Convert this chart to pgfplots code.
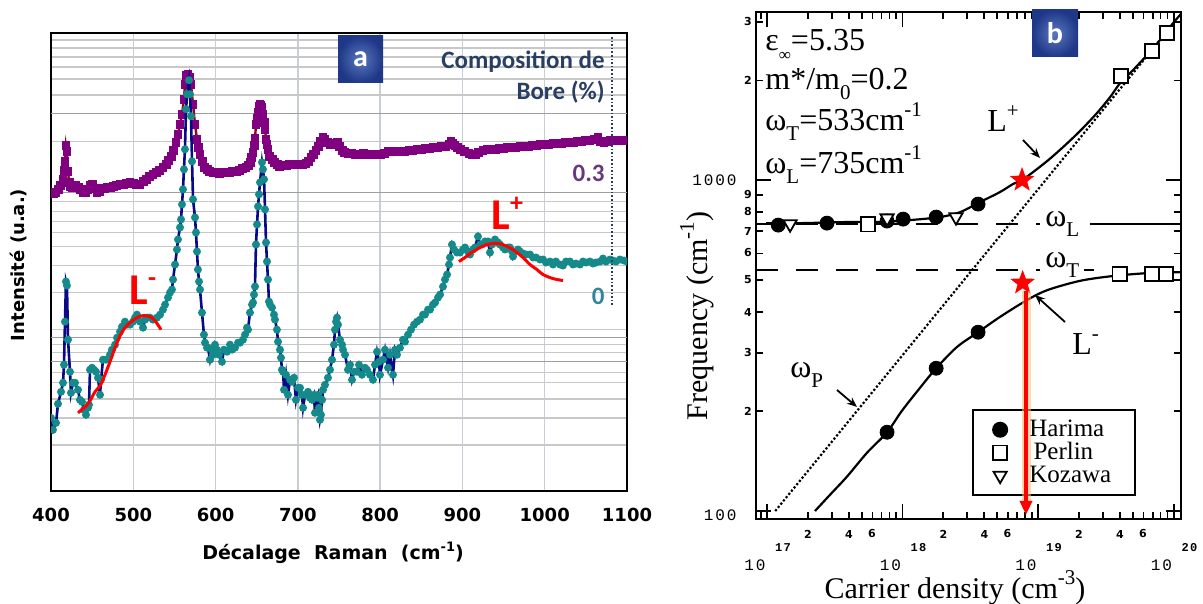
\documentclass[border=0pt]{standalone}
\usepackage{pgfplots}
\pgfplotsset{compat=1.18}
\usepackage{fontspec}
\setmainfont{Liberation Serif}
\newfontfamily\vfont{DejaVu Sans}
\newfontfamily\cfont{Carlito}
\newfontfamily\mfont[LetterSpace=12]{Liberation Mono}
\usetikzlibrary{shapes.geometric,arrows.meta}
\definecolor{purpM}{RGB}{128,0,128}
\definecolor{dredL}{RGB}{139,10,10}
\definecolor{tealM}{RGB}{20,138,138}
\definecolor{navyL}{RGB}{10,10,135}
\definecolor{compC}{RGB}{40,62,98}
\definecolor{labA}{RGB}{105,55,130}
\definecolor{labB}{RGB}{49,133,155}
\definecolor{bIn}{RGB}{90,120,190}
\definecolor{bOut}{RGB}{30,55,135}
\definecolor{gridH}{RGB}{200,200,200}
\definecolor{gridV}{RGB}{200,206,216}
\pgfdeclareplotmark{fstar}{\node[star,star points=5,star point ratio=2.4,fill=red,draw=none,inner sep=0pt,minimum size=2\pgfplotmarksize]{};}
\newcommand{\sbs}[2][10.5]{\raisebox{-0.3em}{\fontsize{#1}{#1}\selectfont #2}}
\newcommand{\sps}[2][10.5]{\raisebox{0.45em}{\fontsize{#1}{#1}\selectfont #2}}
\begin{document}
\begin{tikzpicture}
\path[use as bounding box] (0pt,0pt) rectangle (601.5pt,302pt);
%================ panel a
\begin{axis}[
 at={(25.5pt,56.5pt)}, anchor=south west,
 scale only axis, width=288pt, height=228.5pt,
 xmin=400, xmax=1100, ymin=0, ymax=457,
 clip marker paths=true,
 xtick={400,500,600,700,800,900,1000,1100},
 xticklabels={400,500,600,700,800,900,1000,1100},
 xticklabel style={font=\vfont\bfseries\fontsize{9}{10}\selectfont, yshift=-5pt},
 ytick={46,73,92,108,118,138,146,161,198,225,244,258,269,279,289,349,395,411,423,433,442,450},
 yticklabels={},
 extra y ticks={129,153,298,377},
 extra y tick labels={},
 extra y tick style={major y grid style={gray!75, line width=0.7pt}},
 tick style={draw=none},
 xmajorgrids, ymajorgrids,
 major x grid style={gridV, line width=0.7pt},
 major y grid style={gridH, line width=0.7pt},
 axis line style={black, line width=0.9pt},
]
\addplot[dredL, line width=1.2pt, mark=square*, mark size=1.6pt, mark options={purpM, fill=purpM, solid}] coordinates {
(400,298)(403,297)(406,298)(409,301)(412,305)(414.6,311)(416,320)(417,329)(418.2,345)(419.4,339)(420.7,319)(422,308)(423.1,304)
(426,303)(430,305)(433,303)(436,301)(439,298)(442,298)(445,301)(448,305)(450,306)(453,302)(456,298)(459,299)(462,302)(465,302)(468,303)(472,303)(476,304)(480,305)(484,306)(488,306)(492,307)(496,308)(500,307)(504,306)(508,306)(512,309)(516,311)(520,314)(524,316)(528,318)(532,320)(536,323)(540,326)(543,330)(546,334)(549,340)(552,348)(554.3,356)(556.8,366)(559.2,376)(561.6,391)(562.8,406)(564.1,415)(566.5,416)(568.9,413)(570.1,406)(572.6,386)(575,366)(577.4,351)(579,343)(581,336)(584,329)(587,323)(590,321)(593,319)(597,318)(601,318)(605,317)(609,318)(613,318)(617,318)(621,319)(625,319)(629,320)(633,322)(637,323)(640,325)(642,328)(644,333)(645.5,338)(647,345)(648,352)(649.1,366)(650.5,372)(651.6,378)(653,384)(654,386)(655.2,385)(656.4,383)(657.6,376)(659,368)(660.1,361)(661.3,351)(662.5,346)(663.7,341)(666,334)(669,331)(672,328)(675,326)(678,324)(682,325)(686,325)(690,326)(694,326)(698,326)(702,326)(706,326)(710,327)(713,329)(716,333)(719,336)(722,340)(725,344)(728,349)(730.6,353)(733,351)(736,348)(740,346)(744,347)(748,348)(751,344)(754,340)(757,338)(761,337)(765,337)(770,336)(775,336)(780,337)(785,336)(790,336)(795,336)(800,336)(805,337)(810,339)(815,339)(820,339)(825,339)(830,339)(835,340)(840,340)(845,341)(850,341)(855,342)(860,342)(865,343)(870,343)(875,344)(880,344)(884,346)(886,349)(888,347)(891,345)(894,343)(898,341)(903,339)(908,337)(912,336)(916,336)(920,338)(925,340)(930,341)(935,341)(940,341)(945,342)(950,342)(955,343)(960,343)(965,343)(970,344)(975,344)(980,344)(985,345)(990,345)(995,346)(1000,346)(1005,346)(1010,347)(1015,347)(1020,347)(1025,348)(1030,348)(1035,348)(1040,349)(1045,349)(1050,350)(1055,350)(1060,351)(1064.8,353)(1068,349)(1072,348)(1076,349)(1080,350)(1085,350)(1090,350)(1095,350)(1100,350)};
\addplot[navyL, line width=1.3pt, mark=*, mark size=1.3pt, mark options={tealM, fill=tealM, solid}] coordinates {
(400,73)(402.4,61)(406.1,68)(408.5,87)(412.2,99)(414.6,108)(415.8,126)(417,169)(418.2,209)(419.4,205)(420.7,151)(423.1,119)(424.3,98)(426.7,108)(429.2,108)(432.8,101)(435.2,91)(437.7,89)(440.1,81)(442.5,76)(445,83)(446.2,86)(447.4,121)(449.8,123)(452.3,121)(454.7,119)(457.1,113)(459.6,96)(460.8,111)(463.2,131)(466.8,131)(471.7,136)(474.1,141)(477.8,146)(480.2,153)(483.9,159)(486.3,164)(489.9,169)(492.4,166)(496,166)(499.7,169)(502.1,173)(504.5,176)(508.2,169)(511.8,163)(514.2,171)(516.7,173)(520.3,173)(524,171)(528.8,173)(532.5,176)(536.1,181)(538.6,186)(542.2,193)(544.6,198)(547,201)(548.3,211)(550.7,226)(553.1,241)(554.3,251)(556.8,263)(558,271)(559.2,286)(560.4,301)(561.6,321)(562.8,341)(564.1,381)(565.3,396)(567.7,410)(568.9,396)(570.1,374)(571.4,329)(572.6,291)(575,273)(576.2,258)(577.4,239)(578.6,221)(579.9,209)(581.1,201)(583.5,178)(585.9,156)(587.2,148)(589.6,143)(590.8,143)(593.2,131)(595.7,141)(596.9,136)(599.3,146)(601.7,141)(604.2,136)(607.8,129)(610.2,141)(613.9,139)(617.5,146)(620,141)(623.6,143)(627.3,148)(629.7,148)(633.3,151)(635.8,156)(638.2,163)(639.4,161)(641.8,178)(644.3,186)(645.5,188)(646.7,196)(647.9,204)(649.1,246)(650.4,266)(651.6,284)(652.8,296)(654,308)(656.4,328)(657.6,321)(658.9,311)(660.1,281)(661.3,248)(662.5,229)(663.7,211)(664.9,189)(666.2,186)(668.6,183)(671,176)(672.2,171)(674.6,161)(675.9,149)(678.3,141)(679.5,133)(680.7,121)(682,119)(683.2,101)(685.6,116)(688,96)(690.5,111)(692.9,109)(695.3,113)(697.7,91)(700.2,103)(702.6,103)(705,96)(706.3,83)(708.7,96)(712.3,99)(714.8,93)(717.2,91)(719.6,96)(720.8,78)(723.3,93)(724.5,96)(725.7,83)(726.9,71)(728.1,76)(729.4,91)(730.6,101)(733,106)(736.6,113)(739.1,121)(741.5,131)(743.9,146)(745.1,161)(746.4,169)(747.6,173)(748.8,166)(751.2,151)(753.7,146)(754.9,141)(757.3,136)(760.9,121)(763.4,126)(765.8,111)(768.2,119)(771.9,119)(774.3,126)(777.9,116)(781.6,123)(784,121)(787.7,116)(791.3,111)(793.8,126)(796.2,139)(798.6,129)(799.8,116)(803.5,131)(805.9,141)(809.6,123)(812,136)(815.6,116)(818.1,141)(820.5,136)(824.1,143)(827.8,151)(830.2,149)(833.9,156)(837.5,161)(841.2,166)(844.8,169)(848.4,171)(852.1,176)(854.5,176)(858.2,181)(860.6,181)(864.2,186)(866.7,188)(870.3,193)(872.8,196)(876.4,204)(878.8,211)(881.3,216)(883.7,226)(884.9,233)(887.3,246)(889.8,241)(893.4,238)(897.1,238)(900.7,241)(903.1,243)(906.8,239)(909.2,236)(912.8,241)(915.3,243)(918.9,254)(921.4,246)(923.8,246)(927.4,249)(931.1,249)(933.5,238)(935.9,246)(939.6,251)(943.2,248)(945.7,246)(949.3,243)(951.8,241)(955.4,243)(957.8,243)(960.3,239)(961.5,234)(963.9,239)(967.6,241)(970,239)(973.6,237)(977.3,236)(982.1,236)(985.8,233)(989.4,233)(994.3,231)(997.9,231)(1001.6,228)(1006.4,229)(1010.1,226)(1013.7,229)(1018.6,226)(1022.2,225)(1025.9,229)(1030.7,229)(1034.4,226)(1038,227)(1042.9,226)(1046.5,229)(1050.2,228)(1055,229)(1058.7,227)(1062.3,228)(1067.2,229)(1070.8,232)(1074.5,229)(1079.3,231)(1082.9,230)(1086.6,229)(1091.5,231)(1096.3,230)(1100,229)};
\addplot[red, line width=1.5pt, smooth] coordinates {(432.8,78)(445,87)(453.5,99)(459.6,105)(465.6,116)(471.7,129)(477.8,143)(483.9,155)(489.9,163)(496,168)(504.5,173)(511.8,175)(520.3,174)(526.4,170)(533.7,161)};
\addplot[red, line width=1.5pt, smooth] coordinates {(895.8,229)(903.1,233)(909.2,237)(915.3,240)(921.4,243)(929.9,246)(937.2,247)(944.5,247)(951.8,245)(959.1,242)(966.3,238)(973.6,233)(982.1,226)(990.6,221)(997.9,216)(1010,212)(1022.2,210)};
\draw[compC, densely dotted, line width=0.8pt] (axis cs:1082,453) -- (axis cs:1082,186);
\end{axis}
%================ panel b
\begin{axis}[
 at={(378pt,42.5pt)}, anchor=south west,
 scale only axis, width=212.5pt, height=253.5pt,
 xmode=log, ymode=log,
 xmin=8.3e16, xmax=1.135e20, ymin=94.6, ymax=3220,
 xtick={1e17,1e18,1e19,1e20}, ytick={100,1000},
 minor xtick={9e16,2e17,3e17,4e17,5e17,6e17,7e17,8e17,9e17,2e18,3e18,4e18,5e18,6e18,7e18,8e18,9e18,2e19,3e19,4e19,5e19,6e19,7e19,8e19,9e19},
 minor ytick={200,300,400,500,600,700,800,900,2000,3000},
 xticklabels={}, yticklabels={},
 tick align=inside,
 major tick length=7.5pt, minor tick length=3.5pt,
 every tick/.style={black, line width=0.9pt},
 axis line style={black, line width=1.4pt},
 legend cell align=left,
 legend style={at={(0.508,0.217)}, anchor=north west, draw=black, line width=1pt, fill=white,
   font=\fontsize{12.5}{13}\selectfont, inner xsep=10pt, inner ysep=3pt, row sep=-2.5pt,
   column sep=9pt},
]
\addplot[black, densely dotted, line width=1.1pt, forget plot] coordinates {(1.15e17,100) (9.9e19,2958)};
\addplot[black, line width=1pt, dash pattern=on 11pt off 9pt, forget plot] coordinates {(8.3e16,735) (1.035e19,735)};
\addplot[black, line width=1pt, forget plot] coordinates {(2.42e19,735) (1.135e20,735)};
\addplot[black, line width=1pt, dash pattern=on 11pt off 9pt, forget plot] coordinates {(8.3e16,533) (1.035e19,533)};
\addplot[black, line width=1pt, forget plot] coordinates {(2.2e19,533) (2.6e19,533)};
\addplot[black, line width=1.1pt, smooth, forget plot] coordinates {(9.84e16,741)(1.75e17,741)(4.1e17,747)(6.83e17,747)(1.14e18,757)(1.89e18,773)(2.66e18,800)(3.73e18,858)(5.24e18,920)(6.54e18,973)(7.62e18,1000)(9.19e18,1057)(1.19e19,1149)(1.53e19,1258)(2.04e19,1407)(2.72e19,1594)(3.4e19,1781)(4.03e19,1963)(5.02e19,2149)(6.37e19,2386)(7.94e19,2649)(9.91e19,2980)(1.135e20,3178)};
\addplot[black, line width=1.1pt, smooth, forget plot] coordinates {(2.26e17,100)(2.92e17,112)(3.89e17,127)(5.47e17,150)(7.69e17,173)(9.91e17,201)(1.35e18,236)(1.77e18,270)(2.52e18,313)(3.61e18,347)(5.24e18,386)(8.3e18,434)(1.17e19,465)(2.04e19,496)(3.58e19,513)(6.71e19,524)(1.135e20,527)};
\addplot[only marks, mark=*, mark size=3.5pt, black] coordinates {(1.21e17,731)(2.77e17,741)(7.69e17,752)(1.01e18,762)(1.77e18,773)(3.61e18,846)(7.69e17,173)(1.77e18,270)(3.61e18,347)};
\addlegendentry{Harima}
\addplot[only marks, mark=square*, mark size=3.6pt, mark options={fill=white, draw=black, line width=0.9pt}] coordinates {(5.56e17,735)(4.1e19,2061)(6.94e19,2455)(8.95e19,2782)(4.0e19,520)(6.94e19,520)(8.8e19,520)};
\addlegendentry{\,Perlin}
\addplot[only marks, mark=triangle*, mark size=3.8pt, mark options={rotate=180, fill=white, draw=black, line width=0.9pt}] coordinates {(1.48e17,736)(7.69e17,767)(2.48e18,773)};
\addlegendentry{Kozawa}
\addplot[only marks, mark=fstar, mark size=6.5pt, forget plot] coordinates {(7.62e18,1000)(7.7e18,489)};
\coordinate (arrT) at (axis cs:8.15e18,462);
\coordinate (arrB) at (axis cs:8.15e18,97.3);
\end{axis}
\draw[orange!55, line width=4.5pt, opacity=0.55] (arrT) -- ([yshift=5pt]arrB);
\draw[red, line width=2pt, -{Triangle[length=7pt,width=6pt]}] (arrT) -- (arrB);
%================ annotations
\begin{scope}[x=0.5pt,y=0.5pt]
% panel a
\node[rotate=90, font=\vfont\bfseries\fontsize{9}{10}\selectfont] at (18,339) {Intensité (u.a.)};
\node[font=\vfont\bfseries\fontsize{9.5}{10}\selectfont] at (333,51) {Décalage~~Raman~~(cm\sps[6.5]{-1})};
\shade[inner color=bIn, outer color=bOut] (338,521) rectangle (383,568);
\node[white, font=\cfont\bfseries\fontsize{15}{15}\selectfont] at (360.5,545) {a};
\node[anchor=base east, compC, font=\cfont\bfseries\fontsize{12.5}{13}\selectfont, inner sep=0pt] at (605,535) {Composition de};
\node[anchor=base east, compC, font=\cfont\bfseries\fontsize{12.5}{13}\selectfont, inner sep=0pt] at (605,504) {Bore (\%)};
\node[anchor=base east, labA, font=\cfont\bfseries\fontsize{12.5}{13}\selectfont, inner sep=0pt] at (605,422) {0.3};
\node[anchor=base east, labB, font=\cfont\bfseries\fontsize{12.5}{13}\selectfont, inner sep=0pt] at (605,299) {0};
\node[anchor=base west, red, font=\cfont\bfseries\fontsize{22}{22}\selectfont, inner sep=0pt] at (129,299) {L\raisebox{0.42em}{\fontsize{13}{13}\selectfont -}};
\node[anchor=base west, red, font=\cfont\bfseries\fontsize{22}{22}\selectfont, inner sep=0pt] at (491,374) {L\raisebox{0.42em}{\fontsize{13}{13}\selectfont +}};
% panel b
\shade[inner color=bIn, outer color=bOut] (1032,547) rectangle (1078,594);
\node[white, font=\cfont\bfseries\fontsize{15}{15}\selectfont] at (1055,571) {b};
\node[anchor=base west, inner sep=0pt, font=\fontsize{16}{16}\selectfont] at (765,553) {ε\sbs[8.5]{∞}=5.35};
\node[anchor=base west, inner sep=0pt, font=\fontsize{16}{16}\selectfont] at (765,514) {m*/m\sbs{0}=0.2};
\node[anchor=base west, inner sep=0pt, font=\fontsize{16}{16}\selectfont] at (765,473) {ω\sbs{T}=533cm\sps{-1}};
\node[anchor=base west, inner sep=0pt, font=\fontsize{16}{16}\selectfont] at (765,430) {ω\sbs{L}=735cm\sps{-1}};
\node[anchor=base west, inner sep=0pt, font=\fontsize{16}{16}\selectfont] at (987,472) {L\sps{+}};
\node[anchor=base west, inner sep=0pt, font=\fontsize{16}{16}\selectfont] at (1072,249) {L\sps{-}};
\node[anchor=base west, inner sep=0pt, font=\fontsize{16}{16}\selectfont] at (790,226) {ω\sbs{P}};
\node[anchor=base west, inner sep=0pt, font=\fontsize{16}{16}\selectfont, fill=white] at (1045,377) {ω\sbs{L}};
\node[anchor=base west, inner sep=0pt, font=\fontsize{16}{16}\selectfont, fill=white] at (1045,336) {ω\sbs{T}};
\draw[line width=0.9pt, -{Stealth[length=5pt,width=4pt]}] (837,214) -- (857,197);
\draw[line width=0.9pt, -{Stealth[length=5pt,width=4pt]}] (1023,464) -- (1040,446);
\draw[line width=0.9pt, -{Stealth[length=5pt,width=4pt]}] (1065,282) -- (1035,309);
\node[anchor=center, font=\fontsize{15}{15}\selectfont] at (955,16) {Carrier density (cm\sps{-3})};
\node[rotate=90, font=\fontsize{15}{15}\selectfont] at (697,288) {Frequency (cm\sps{-1})};
% b tick labels
\node[anchor=east, inner sep=0pt, font=\mfont\fontsize{8}{8}\selectfont] at (737,424) {1000};
\node[anchor=east, inner sep=0pt, font=\mfont\fontsize{8}{8}\selectfont] at (737,89) {100};
\foreach \yy/\tt in {582/3,524/2,409/9,392/8,373/7,351/6,324/5,292/4,251/3,193/2}
  \node[inner sep=0pt, font=\vfont\bfseries\fontsize{5.5}{6}\selectfont] at (748,\yy) {\tt};
\foreach \dd in {767,902.5,1038}{
  \node[inner sep=0pt, font=\vfont\bfseries\fontsize{5.5}{6}\selectfont] at (\dd+41,70) {2};
  \node[inner sep=0pt, font=\vfont\bfseries\fontsize{5.5}{6}\selectfont] at (\dd+82,70) {4};
  \node[inner sep=0pt, font=\vfont\bfseries\fontsize{5.5}{6}\selectfont] at (\dd+105,70) {6};
}
\foreach \dd/\ee in {767/17,902.5/18,1038/19,1173.5/20}{
  \node[inner sep=0pt, font=\mfont\fontsize{8}{8}\selectfont] at (\dd-12,39) {10};
  \node[inner sep=0pt, font=\mfont\bfseries\fontsize{6}{6}\selectfont] at (\dd+16,56) {\ee};
}
\end{scope}
\end{tikzpicture}
\end{document}
